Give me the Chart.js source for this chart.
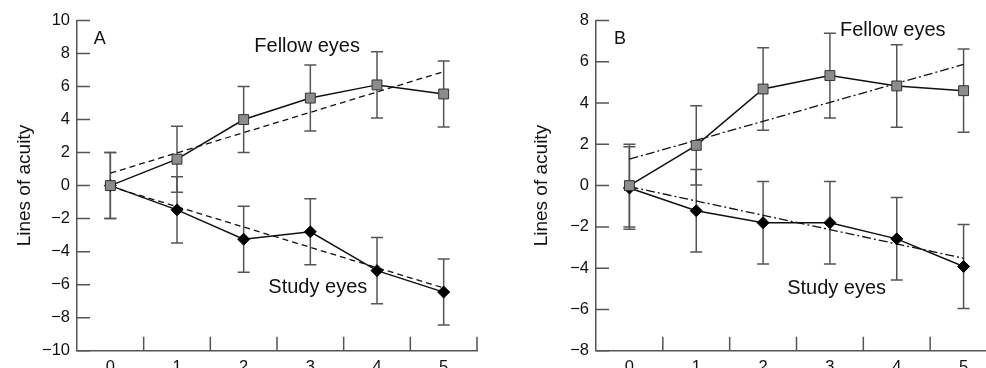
<!DOCTYPE html>
<html><head><meta charset="utf-8">
<script src="https://cdn.jsdelivr.net/npm/chart.js@4/dist/chart.umd.min.js"></script>
<style>
html,body{margin:0;padding:0;background:#fff;overflow:hidden;width:986px;height:368px;}
#wa{position:absolute;left:0;top:0;width:493px;height:368px;}
#wb{position:absolute;left:519px;top:0;width:500px;height:368px;}
</style></head><body>
<div id="wa"><canvas id="ca" width="493" height="368"></canvas></div>
<div id="wb"><canvas id="cb" width="500" height="368"></canvas></div>
<script>
// ---- data ----
const xCats = [0, 1, 2, 3, 4, 5];
const fitX = [0, 5];

const fellowA    = [0, 1.6, 4.0, 5.3, 6.1, 5.55];
const fellowAErr = [2, 2, 2, 2, 2, 2];
const studyA     = [0, -1.47, -3.25, -2.8, -5.15, -6.45];
const studyAErr  = [2, 2, 2, 2, 2, 2];
const fitFellowA = [0.75, 6.9];
const fitStudyA  = [-0.05, -6.2];
const yTicksA    = [-10, -8, -6, -4, -2, 0, 2, 4, 6, 8, 10];

const fellowB    = [0, 1.95, 4.68, 5.33, 4.83, 4.6];
const fellowBErr = [2, 1.92, 2, 2.05, 2, 2.02];
const studyB     = [-0.12, -1.22, -1.8, -1.8, -2.58, -3.92];
const studyBErr  = [2, 2, 2, 2, 2, 2.03];
const fitFellowB = [1.28, 5.87];
const fitStudyB  = [-0.05, -3.52];
const yTicksB    = [-8, -6, -4, -2, 0, 2, 4, 6, 8];

const FONT = "'Liberation Sans', Arial, Helvetica, sans-serif";
const AXIS = '#555';
const INK = '#111';

function fmt(v) { return v < 0 ? '\u2212' + Math.abs(v) : String(v); }

function makePlugin(c) {
  return {
    id: 'extras',
    beforeDatasetsDraw(chart) {
      const { ctx, scales: { x, y } } = chart;
      ctx.save();
      ctx.strokeStyle = AXIS; ctx.lineWidth = 1.5;
      c.errs.forEach(e => {
        e.vals.forEach((v, i) => {
          const px = x.getPixelForValue(xCats[i]);
          const top = y.getPixelForValue(v + e.err[i]);
          const bot = y.getPixelForValue(v - e.err[i]);
          ctx.beginPath();
          ctx.moveTo(px, top); ctx.lineTo(px, bot);
          ctx.moveTo(px - 6, top); ctx.lineTo(px + 6, top);
          ctx.moveTo(px - 6, bot); ctx.lineTo(px + 6, bot);
          ctx.stroke();
        });
      });
      ctx.restore();
    },
    afterDraw(chart) {
      const { ctx, chartArea: ca, scales: { x, y } } = chart;
      ctx.save();
      ctx.strokeStyle = AXIS; ctx.lineWidth = 1.5;
      ctx.beginPath();
      y.ticks.forEach(t => {
        const py = y.getPixelForValue(t.value);
        ctx.moveTo(ca.left, py); ctx.lineTo(ca.left + 13, py);
      });
      x.ticks.forEach(t => {
        const px = x.getPixelForValue(t.value + 0.5);
        ctx.moveTo(px, ca.bottom); ctx.lineTo(px, ca.bottom - 14);
      });
      ctx.stroke();
      ctx.fillStyle = INK; ctx.textBaseline = 'middle'; ctx.textAlign = 'left';
      c.texts.forEach(t => {
        ctx.font = t.size + 'px ' + FONT;
        ctx.fillText(t.text, x.getPixelForValue(t.x), y.getPixelForValue(t.y));
      });
      ctx.restore();
    }
  };
}

function build(id, c) {
  const pts = arr => xCats.map((v, i) => ({ x: v, y: arr[i] }));
  const fit = arr => fitX.map((v, i) => ({ x: v, y: arr[i] }));
  new Chart(document.getElementById(id), {
    type: 'line',
    data: {
      datasets: [
        { data: pts(c.fellow), borderColor: INK, borderWidth: 1.5, pointStyle: 'rect', pointRadius: 7,
          pointBackgroundColor: '#8c8c8c', pointBorderColor: '#333', pointBorderWidth: 1, order: 1 },
        { data: pts(c.study), borderColor: INK, borderWidth: 1.5, pointStyle: 'rectRot', pointRadius: 6,
          pointBackgroundColor: '#000', pointBorderColor: '#000', pointBorderWidth: 1, order: 2 },
        { data: fit(c.fitF), borderColor: INK, borderWidth: 1.3, borderDash: c.dash, pointRadius: 0, order: 3 },
        { data: fit(c.fitS), borderColor: INK, borderWidth: 1.3, borderDash: c.dash, pointRadius: 0, order: 4 }
      ]
    },
    options: {
      responsive: false, animation: false, events: [], devicePixelRatio: 1,
      layout: { padding: { left: 0, right: c.padR, top: 20.5, bottom: 0 } },
      plugins: { legend: { display: false }, tooltip: { enabled: false } },
      scales: {
        x: {
          type: 'linear', min: -0.5, max: 5.5,
          afterBuildTicks: s => { s.ticks = xCats.map(v => ({ value: v })); },
          afterFit: s => { s.height = 17.3; },
          grid: { display: false, drawTicks: false },
          border: { display: true, color: AXIS, width: 1.5 },
          ticks: { padding: 7, color: INK, font: { family: FONT, size: 16.5 }, maxRotation: 0, autoSkip: false }
        },
        y: {
          min: c.ymin, max: c.ymax,
          afterBuildTicks: s => { s.ticks = c.yTicks.map(v => ({ value: v })); },
          afterFit: s => { s.width = 77; },
          grid: { display: false, drawTicks: false },
          border: { display: true, color: AXIS, width: 1.5 },
          ticks: { padding: 7, color: INK, font: { family: FONT, size: 16.5 }, callback: v => fmt(v), autoSkip: false },
          title: { display: true, text: 'Lines of acuity', color: INK, font: { family: FONT, size: 19 },
                   padding: { top: c.titlePad, bottom: 0 } }
        }
      }
    },
    plugins: [makePlugin(c)]
  });
}

build('ca', {
  fellow: fellowA, study: studyA, fitF: fitFellowA, fitS: fitStudyA,
  errs: [{ vals: studyA, err: studyAErr }, { vals: fellowA, err: fellowAErr }],
  yTicks: yTicksA, ymin: -10, ymax: 10, padR: 16, titlePad: 13.5, dash: [6, 4],
  texts: [
    { text: 'A', x: -0.25, y: 8.9, size: 18 },
    { text: 'Fellow eyes', x: 2.16, y: 8.45, size: 20 },
    { text: 'Study eyes', x: 2.37, y: -6.2, size: 20 }
  ]
});

build('cb', {
  fellow: fellowB, study: studyB, fitF: fitFellowB, fitS: fitStudyB,
  errs: [{ vals: studyB, err: studyBErr }, { vals: fellowB, err: fellowBErr }],
  yTicks: yTicksB, ymin: -8, ymax: 8, padR: 22, titlePad: 11, dash: [9, 3, 2, 3],
  texts: [
    { text: 'B', x: -0.23, y: 7.1, size: 18 },
    { text: 'Fellow eyes', x: 3.15, y: 7.53, size: 20 },
    { text: 'Study eyes', x: 2.36, y: -4.98, size: 20 }
  ]
});
</script>
</body></html>
